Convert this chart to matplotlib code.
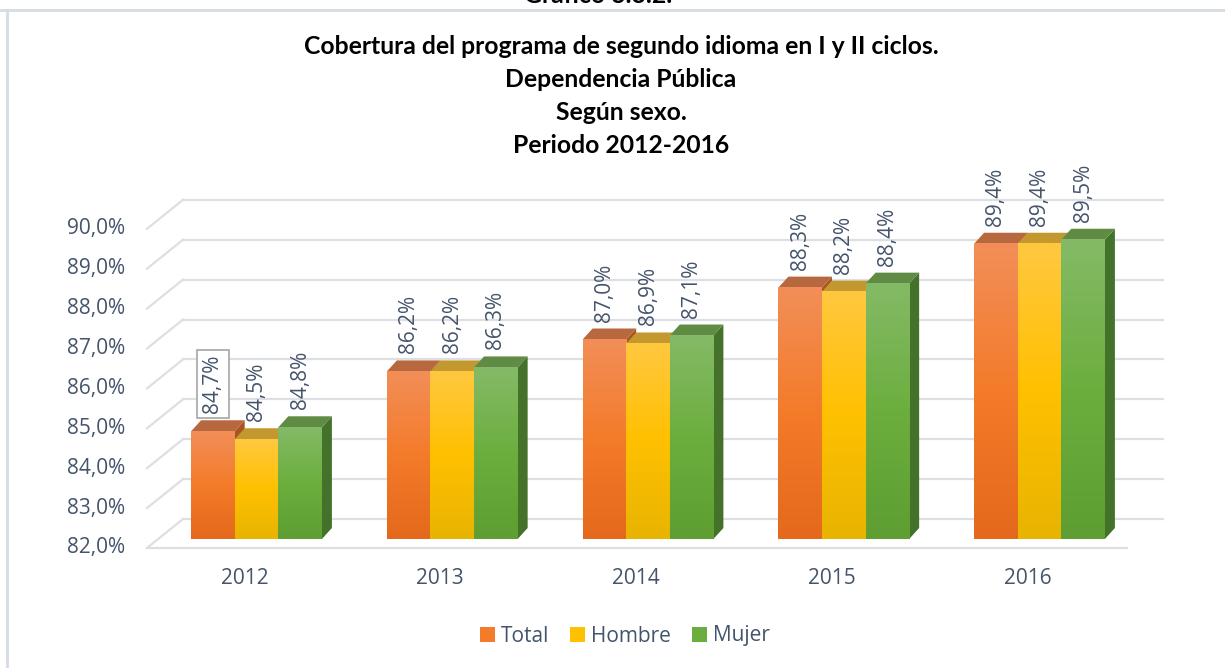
import numpy as np
import matplotlib.pyplot as plt
from matplotlib.patches import Polygon, Patch
from matplotlib.colors import LinearSegmentedColormap

years = ["2012", "2013", "2014", "2015", "2016"]
series = ["Total", "Hombre", "Mujer"]
total = [84.7, 86.2, 87.0, 88.3, 89.4]
hombre = [84.5, 86.2, 86.9, 88.2, 89.4]
mujer = [84.8, 86.3, 87.1, 88.4, 89.5]
ticks = [82, 83, 84, 85, 86, 87, 88, 89, 90]

# face colours: (top light, middle, bottom), top face, side face
grad = {
    "Total": ["#F28E58", "#F47B2A", "#E4691C"],
    "Hombre": ["#FFC83F", "#FFC000", "#E8B400"],
    "Mujer": ["#84BA66", "#6CAE3E", "#5E9E32"],
}
top_col = {"Total": "#B8683F", "Hombre": "#C3982F", "Mujer": "#5F8B45"}
side_col = {"Total": "#A85522", "Hombre": "#B38A00", "Mujer": "#44722A"}
txt = "#44546A"
grid = "#DCDFE4"

plt.rcParams['font.family'] = ['Open Sans', 'DejaVu Sans']

fig = plt.figure(figsize=(12.25, 6.68), dpi=100)
# pixel scale of the plot: 195.75 px per category, 39.9 px per percent
PX, PY = 195.75, 39.9
ax = fig.add_axes([100 / 1225, (668 - 570) / 668, 1100 / 1225, 420 / 668])
ax.axis("off")

back_dy = 20 / PY
x_back0, x_back1 = (183 - 256.5) / PX, (1163 - 256.5) / PX
x_front0, x_front1 = (147 - 256.5) / PX, (1127 - 256.5) / PX
depth_dy = 29 / PY

for t in ticks:
    yb = t + back_dy
    ax.plot([x_back0, x_back1], [yb, yb], color=grid, lw=1.6, zorder=1)
    ax.plot([x_front0, x_back0], [yb - depth_dy, yb], color=grid, lw=1.6, zorder=1)
    ax.text(-0.672, yb - depth_dy, f"{t:.1f}%".replace(".", ","), ha="right",
            va="center", fontsize=15, color=txt)
ax.plot([x_front0, x_front1], [82 + back_dy - depth_dy] * 2, color=grid, lw=1.6, zorder=1)

w = 43.6 / PX
ddx, ddy = 10 / PX, 11 / PY
x = np.arange(len(years))
data = {"Total": total, "Hombre": hombre, "Mujer": mujer}
z = 2
for i in range(len(years)):
    for k, s in enumerate(series):
        v = data[s][i]
        x0 = x[i] + (k - 1.5) * w
        x1 = x0 + w
        side = Polygon([(x1, 82), (x1, v), (x1 + ddx, v + ddy), (x1 + ddx, 82 + ddy)],
                       closed=True, fc=side_col[s], ec="none", zorder=z)
        top = Polygon([(x0, v), (x1, v), (x1 + ddx, v + ddy), (x0 + ddx, v + ddy)],
                      closed=True, fc=top_col[s], ec="none", zorder=z)
        ax.add_patch(side)
        ax.add_patch(top)
        cmap = LinearSegmentedColormap.from_list(s, grad[s][::-1])
        ax.imshow(np.linspace(0, 1, 100).reshape(-1, 1), extent=[x0, x1, 82, v],
                  origin="lower", cmap=cmap, aspect="auto", zorder=z + 0.5)
        z += 1
        lab = f"{v:.1f}%".replace(".", ",")
        kw = {}
        if i == 0 and k == 0:
            kw["bbox"] = dict(boxstyle="square,pad=0.25", fc="white", ec="#A6A6A6", lw=1.2)
        ax.text((x0 + x1) / 2, v + ddy + 7 / PY, lab, rotation=90, ha="center",
                va="bottom", fontsize=15, color=txt, zorder=50, **kw)
    ax.text(x[i] - 12 / PX, 82 + (539 - 578) / PY, years[i], ha="center",
            va="center", fontsize=15, color=txt)

ax.set_xlim((100 - 256.5) / PX, (1200 - 256.5) / PX)
ax.set_ylim(82 + (539 - 570) / PY, 82 + (539 - 150) / PY)

title = ("Cobertura del programa de segundo idioma en I y II ciclos.\n"
         "Dependencia Pública\nSegún sexo.\nPeriodo 2012-2016")
fig.text(621 / 1225, 1 - 35 / 668, title, ha="center", va="top", fontsize=17.8,
         fontweight="bold", family="Lato", linespacing=1.52, color="black")
fig.text(598 / 1225, 1 - 3 / 668, "Gráfico 3.3.2.", ha="center", va="baseline",
         fontsize=17.8, fontweight="bold", family="Lato", color="black")

# outer frame
fig.add_artist(plt.Line2D([0, 1], [1 - 10 / 668] * 2, color="#D6DCE4", lw=2))
fig.add_artist(plt.Line2D([7 / 1225] * 2, [0, 1 - 10 / 668], color="#D6DCE4", lw=2))

handles = [Patch(fc=grad[s][1], ec="none") for s in series]
fig.legend(handles, series, loc="center", bbox_to_anchor=(625 / 1225, 32 / 668), ncol=3,
           frameon=False, fontsize=15, handlelength=0.7, handleheight=0.7,
           handletextpad=0.3, columnspacing=1.0, labelcolor=txt)

fig.savefig("out.png", dpi=100)
